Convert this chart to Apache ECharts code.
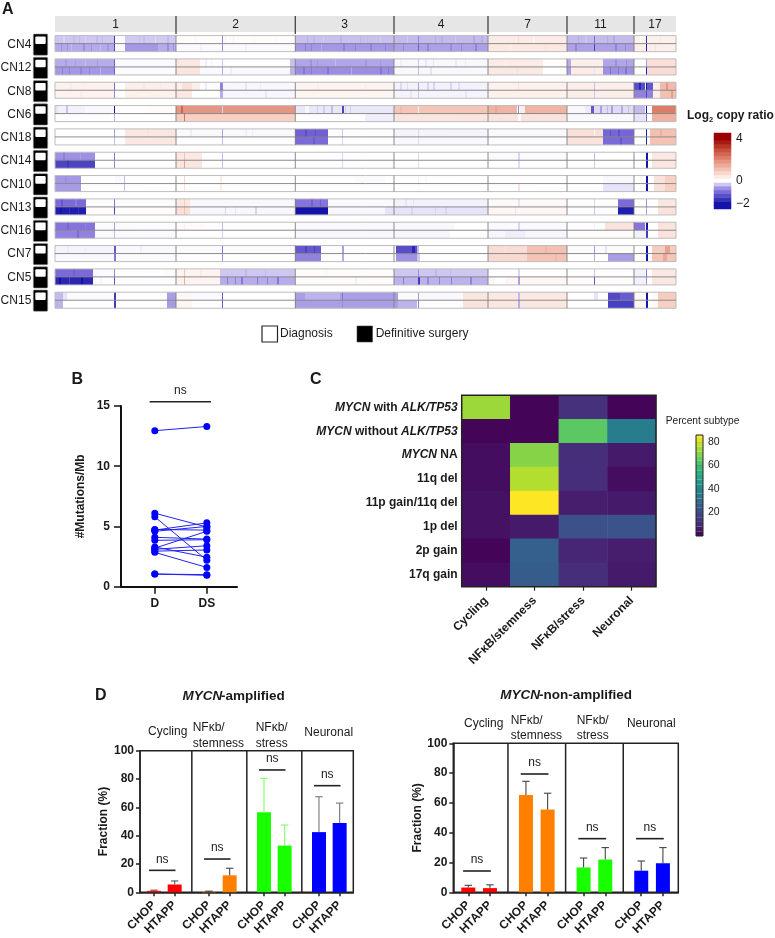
<!DOCTYPE html>
<html><head><meta charset="utf-8">
<style>html,body{margin:0;padding:0;background:#fff}#c{width:775px;height:938px}</style>
<script src="https://cdn.jsdelivr.net/npm/echarts@6/dist/echarts.min.js"></script>
</head><body><div id="c"></div>
<script>
// ---------- Panel A data: [startBin, endBin, log2 ratio] per sample track ----------
const chromNames=['1','2','3','4','7','11','17'];
const chromEnds=[121,240.3,339,433,512,579,621];
const CN4_D=[[0,59,-.4],[8,10,-.3],[18,20,-.48],[24,25,-.5],[30,31,-.3],[41,43,-.5],[47,48,-.48],[59,60,-1.6],[60,70,-.03],[70,121,-.38],[84,85,-.48],[88,90,-.46],[100,101,-.28],[112,114,-.48],[121,240,.05],[140,141,-.08],[167,168,-.9],[170,171,-.1],[178,179,-.1],[198,200,.12],[220,221,-.06],[240,339,-.45],[252,253,-.56],[258,260,-.52],[268,269,-.36],[285,287,-.56],[305,306,-.55],[312,313,-.52],[325,326,-.35],[339,433,-.5],[352,353,-.38],[363,364,-.9],[380,381,-.6],[386,388,-.58],[400,401,-.4],[418,420,-.62],[426,428,-.6],[433,512,.35],[463,464,.6],[478,480,.2],[512,579,-.5],[523,524,-.62],[530,532,-.42],[539,540,-1.1],[552,553,-.62],[558,560,-.62],[579,621,.25],[585,587,.05],[591,592,-1.7],[605,606,.45]];
const CN4_DS=[[0,59,-.62],[6,7,-.78],[12,13,-.78],[16,17,-.5],[28,30,-.8],[36,37,-.78],[45,46,-.5],[52,54,-.75],[59,60,-1.5],[60,70,-.05],[70,103,-.75],[103,121,-.6],[112,114,-.82],[118,119,-.8],[121,240,-.04],[145,147,-.1],[167,168,-.8],[190,192,-.1],[240,339,-.75],[250,251,-.95],[256,257,-.9],[266,267,-.6],[288,290,-.92],[300,301,-.9],[315,317,-.9],[330,331,-.9],[339,433,-.68],[348,349,-.85],[363,364,-1.2],[372,374,-.88],[395,397,-.85],[406,407,-.85],[420,422,-.9],[433,512,.4],[455,456,.2],[490,491,.55],[512,579,-.68],[520,522,-.88],[539,540,-1.5],[560,562,-.9],[570,571,-.85],[579,621,.3],[591,592,-1.9],[600,601,.5]];
const CN12_D=[[0,59,-.6],[10,12,-.72],[20,21,-.7],[30,31,-.5],[42,43,-.72],[59,60,-1.2],[60,121,-.04],[121,145,.4],[145,235,-.02],[150,152,-.12],[156,157,-.1],[167,168,-.4],[235,240,-.45],[240,339,-.65],[255,257,-.78],[262,263,-.75],[280,281,-.5],[310,312,-.76],[325,326,-.74],[339,433,-.06],[345,347,-.12],[363,364,-.4],[370,372,-.18],[378,379,-.18],[400,402,-.15],[410,411,-.14],[433,488,.35],[450,451,.2],[488,512,.04],[512,516,-.6],[516,548,.3],[539,540,-.1],[548,579,-.65],[560,562,-.82],[571,572,-.82],[579,591,.02],[591,592,-.7],[592,621,.55]];
const CN12_DS=[[0,59,-.75],[7,8,-.92],[14,15,-.9],[25,27,-.88],[34,35,-.9],[45,46,-.55],[59,60,-1.2],[60,121,-.03],[121,145,.45],[145,235,-.04],[167,168,-.6],[175,177,-.12],[235,240,-.55],[240,339,-.82],[248,250,-1],[256,257,-.98],[272,274,-1],[296,297,-.6],[325,327,-1],[333,334,-.98],[339,433,-.05],[363,364,-.5],[375,377,-.2],[433,488,.38],[462,463,.55],[488,512,.03],[512,516,-.7],[516,548,.35],[539,540,-.2],[548,579,-.8],[555,556,-1.05],[563,564,-1],[570,572,-1],[579,591,0],[591,592,-1.9],[592,621,.6]];
const CN8_D=[[0,59,.25],[15,17,.33],[28,29,.32],[38,39,.18],[59,60,-1.1],[60,70,.01],[70,121,.3],[88,90,.4],[105,106,.38],[121,127,.3],[127,137,.55],[137,145,.3],[145,165,-.02],[150,152,-.15],[165,168,-.9],[168,240,-.06],[190,192,-.2],[205,206,-.14],[240,339,.2],[262,264,.3],[310,312,.3],[339,433,-.1],[345,347,-.28],[352,353,-.25],[363,364,-.7],[372,374,-.3],[378,380,-.3],[395,397,-.3],[403,405,-.25],[433,512,.25],[463,464,.5],[512,579,.3],[539,540,-.5],[579,590,-1.4],[584,586,-1.8],[591,592,-2],[592,598,-1.3],[598,605,.3],[605,621,1.2],[611,613,1.8]];
const CN8_DS=[[0,59,.22],[25,27,.32],[59,60,-.9],[60,70,.01],[70,121,.25],[121,137,.4],[137,165,.01],[165,168,-.6],[168,240,-.07],[210,212,-.18],[240,339,.18],[339,433,-.08],[355,357,-.18],[363,364,-.4],[410,412,-.2],[433,512,.25],[512,579,.28],[539,540,-.4],[579,598,-.9],[591,592,-1.5],[598,605,.3],[605,621,1.1],[616,618,1.7]];
const CN6_D=[[0,30,-.1],[0,3,-.2],[11,13,-.45],[30,59,-.05],[59,61,-2],[60,70,.02],[70,90,.01],[90,121,.06],[121,126,1.8],[126,128,2.6],[128,240,1.8],[167,168,-.3],[240,339,-.17],[250,254,-.05],[262,263,-.35],[268,270,-.35],[276,278,-.5],[287,289,-1.5],[290,291,-.35],[295,296,-.35],[339,433,1],[345,347,1.2],[363,364,-.1],[433,462,1.3],[440,442,1.5],[463,464,-.9],[465,470,.3],[470,512,1.3],[512,530,-.05],[530,536,-.15],[536,539,-1.3],[539,579,-.25],[545,547,-.7],[552,553,-.5],[556,558,-.7],[566,568,-.6],[573,574,-.5],[579,590,-.5],[591,592,-2],[597,621,2.2]];
const CN6_DS=[[0,55,-.02],[60,70,.01],[59,60,-.6],[70,121,.01],[121,240,.85],[129,130,2.4],[240,310,-.02],[310,339,-.12],[339,433,.45],[433,512,.5],[463,466,.02],[512,579,-.05],[579,591,-.2],[591,592,-1.1],[597,621,1.35]];
const CN18_D=[[0,59,0],[59,60,-.7],[60,70,-.02],[70,121,.42],[92,94,.5],[121,240,-.05],[135,137,-.14],[167,168,-.7],[190,192,-.12],[197,198,-.12],[240,273,-1.2],[250,252,-1.4],[260,261,-1.35],[273,339,-.02],[287,288,-.4],[339,433,-.08],[363,364,-.3],[433,512,-.05],[512,548,.55],[539,540,.1],[548,579,-1.15],[555,556,-1.35],[563,565,-1.35],[579,591,0],[591,592,-1.9],[595,621,1.1],[605,607,1.35]];
const CN18_DS=[[0,59,0],[59,60,-.5],[60,70,-.02],[70,121,.4],[121,240,-.02],[167,168,-.5],[240,273,-1.1],[258,260,-1.25],[273,339,0],[287,288,-.3],[339,433,-.05],[363,364,-.25],[433,512,-.03],[512,548,.5],[548,579,-1.1],[565,567,-1.3],[579,591,0],[591,592,-1.9],[595,621,1.05]];
const CN14_D=[[0,40,-.8],[8,10,-.92],[25,26,-.7],[40,121,-.01],[59,60,-1],[121,147,.4],[129,130,1],[147,240,-.02],[167,168,-.5],[240,339,-.02],[287,288,-.3],[363,364,-.3],[433,512,-.03],[463,465,-.3],[512,579,0],[539,540,-.5],[591,593,-2],[597,621,.4]];
const CN14_DS=[[0,40,-1.5],[12,14,-1.62],[40,121,0],[59,60,-.9],[121,147,.45],[129,130,1.6],[167,168,-.45],[240,339,-.02],[287,288,-.3],[363,364,-.25],[463,465,-.25],[539,540,-.4],[591,593,-2],[597,621,.42]];
const CN10_D=[[0,26,-.75],[10,12,-.82],[60,69,-.04],[69,70,-.5],[129,130,.7],[165,167,.35],[300,330,-.03],[363,364,.3],[370,372,-.06],[512,548,0],[548,579,-.05],[591,593,-2],[599,610,.5],[610,621,.8]];
const CN10_DS=[[0,26,-.72],[69,70,-.5],[129,130,.5],[165,167,.3],[363,364,.1],[463,465,.5],[548,579,-.2],[591,593,-2],[599,610,.55],[610,621,.85]];
const CN13_D=[[0,31,-1.1],[6,8,-1.3],[20,22,-.95],[31,121,-.03],[59,60,-1],[121,135,.4],[129,130,.9],[135,240,-.05],[240,273,-1],[256,258,-1.2],[265,266,-1.2],[273,339,-.04],[339,433,-.1],[350,352,-.2],[358,359,-.2],[433,512,.1],[463,465,-.2],[512,563,.02],[539,540,-.3],[563,579,-1.1],[591,592,-.8],[603,621,.42]];
const CN13_DS=[[0,31,-1.9],[5,7,-2],[14,15,-1.7],[23,24,-1.7],[31,121,.05],[59,60,-1.5],[121,135,.55],[129,130,1.1],[135,240,-.06],[170,171,-.3],[180,181,-.2],[200,202,-.3],[240,273,-2],[273,339,-.06],[330,339,-.2],[339,433,-.2],[356,358,-.3],[380,381,-.28],[390,392,-.3],[433,512,.15],[460,461,-.2],[512,563,-.02],[539,540,-.4],[563,579,-1.9],[591,592,-.7],[603,621,.5]];
const CN16_D=[[0,40,-1],[12,14,-1.12],[30,31,-.9],[40,121,-.03],[59,60,-.7],[121,150,.08],[129,130,.3],[150,240,-.02],[167,168,-.5],[240,339,-.04],[339,400,-.05],[433,512,-.04],[463,465,-.3],[512,550,-.02],[539,540,-.1],[550,579,.5],[579,590,-1],[591,593,-2],[603,621,.5]];
const CN16_DS=[[0,40,-.9],[22,24,-1.08],[40,121,-.04],[59,60,-.5],[121,240,-.01],[167,168,-.3],[240,339,-.05],[339,395,-.07],[433,512,-.07],[450,470,-.12],[512,579,.05],[579,591,-.1],[591,593,-1.6],[603,621,.5]];
const CN7_D=[[0,59,-.08],[12,14,-.15],[30,31,-.14],[59,61,-1.3],[61,121,-.05],[85,87,-.12],[121,240,-.03],[167,168,-1],[240,266,-1.3],[250,252,-1.5],[259,260,-1.5],[266,339,-.02],[287,289,-.7],[341,362,-1.4],[357,360,-1.8],[362,364,-.5],[433,472,.6],[450,451,.45],[472,512,1.1],[490,492,1.25],[512,579,-.03],[539,540,-.7],[550,552,-.2],[591,593,-2],[597,621,.9],[610,615,1.6]];
const CN7_DS=[[0,59,-.05],[59,61,-1],[61,121,-.03],[121,240,-.01],[167,168,-.8],[240,266,-.9],[266,339,-.01],[287,289,-.6],[341,362,-.8],[362,365,-.4],[433,472,.65],[472,512,1.05],[500,502,1.22],[512,553,-.01],[539,540,-.6],[553,579,-.7],[591,593,-2],[597,621,1],[608,612,1.5]];
const CN5_D=[[0,38,-1.1],[18,20,-1.2],[38,60,-.04],[59,60,-.9],[60,110,-.01],[110,121,.06],[121,165,.2],[129,130,1],[145,147,.35],[165,240,-.4],[190,192,-.52],[210,211,-.5],[240,339,.06],[270,272,.14],[339,433,-.4],[363,364,-.8],[380,382,-.52],[395,396,-.5],[433,512,.03],[463,465,-.3],[512,579,.02],[539,540,-.4],[579,590,-.1],[591,592,-1],[597,621,.4]];
const CN5_DS=[[0,38,-1.8],[4,6,-2],[14,15,-1.5],[26,28,-2],[38,121,-.02],[45,47,.15],[59,60,-1.3],[121,165,.2],[129,130,1.4],[165,240,-.6],[172,173,-.95],[180,181,-.9],[186,188,-1],[202,203,-.95],[212,213,-.9],[222,224,-1],[240,339,.07],[300,302,-.12],[339,433,-.55],[348,349,-.95],[363,365,-1.6],[372,374,-.85],[384,385,-.9],[396,397,-.95],[415,417,-.9],[433,512,.15],[463,465,-.7],[440,450,0],[512,579,.05],[539,540,-1.3],[579,591,-.1],[591,592,-.8],[597,621,.42]];
const CN15_D=[[0,8,-.5],[8,12,-.2],[12,58,-.03],[59,61,-1.6],[61,112,-.01],[112,121,-.7],[121,137,.15],[137,166,-.04],[167,168,-1.3],[240,339,-.7],[250,285,-.55],[287,288,-1],[339,343,-.7],[343,363,-.03],[363,364,-.7],[364,408,-.05],[408,433,.45],[433,512,.4],[463,465,-.5],[512,539,0],[539,543,-.2],[553,579,-1.45],[565,579,-1.25],[579,591,.12],[591,593,-2],[597,603,.1],[603,621,.9]];
const CN15_DS=[[0,8,-.55],[8,58,0],[59,61,-1.6],[61,112,0],[112,121,-.72],[121,137,.18],[137,166,-.02],[167,168,-1.3],[240,339,-.7],[287,288,-.85],[339,343,-.7],[343,362,-.55],[363,364,-.9],[364,408,-.02],[408,433,.5],[433,512,.42],[463,465,-.6],[512,543,0],[553,579,-1.55],[579,591,.15],[591,593,-2],[597,603,.12],[603,621,.85]];
const rowNames=['CN4','CN12','CN8','CN6','CN18','CN14','CN10','CN13','CN16','CN7','CN5','CN15'];
const rowTracks=[[CN4_D,CN4_DS],[CN12_D,CN12_DS],[CN8_D,CN8_DS],[CN6_D,CN6_DS],[CN18_D,CN18_DS],[CN14_D,CN14_DS],[CN10_D,CN10_DS],[CN13_D,CN13_DS],[CN16_D,CN16_DS],[CN7_D,CN7_DS],[CN5_D,CN5_DS],[CN15_D,CN15_DS]];
const log2BarValues=[-2.2,-2,-1.7,-1.4,-1.1,-.8,-.4,0,.35,.7,1.1,1.45,1.8,2.2,2.55,2.9,3.3,3.65,4,4.4];
const log2BarLabels={'-2':'\u22122','0':'0','4':'4'};
// ---------- Panel B ----------
const mutD =[12.95,6.1,5.8,4.75,4.7,4.6,4.1,3.85,3.3,3.2,3.1,2.95,2.85,1.05,1.05];
const mutDS=[13.3,4.95,2.2,4.7,5.3,5.0,3.95,3.9,2.45,4.6,3.4,3.05,1.6,1.0,0.95];
const mutCats=['D','DS'];
// ---------- Panel C ----------
const subtypes=['Cycling','NF\u03BAB/stemness','NF\u03BAB/stress','Neuronal'];
const groups=['MYCN with ALK/TP53','MYCN without ALK/TP53','MYCN NA','11q del','11p gain/11q del','1p del','2p gain','17q gain'];
const subtypePct=[[73,1,12,1],[1,1,64,36],[3,70,11,6],[3,76,11,3],[4,86,7,6],[4,6,21,22],[1,26,9,7],[3,25,11,6]];
const pctBarEdges=[0,4,8,12,16,20,24,28,32,36,40,44,48,52,56,60,64,68,72,76,80,84,86];
const pctTicks=[20,40,60,80];
// ---------- Panel D: [mean, upper error] per CHOP/HTAPP ----------
const panelNames=['Cycling','NF\u03BAb/\nstemness','NF\u03BAb/\nstress','Neuronal'];
const sources=['CHOP','HTAPP'];
const ampMean =[[1,5.5],[.3,12],[56.5,33],[42.5,49]];
const ampUpper=[[1.5,8],[.8,17],[80.5,47.5],[67.5,63]];
const ampNs=[15.5,23.5,86.4,75.3];
const nonMean =[[3.2,2.8],[65.3,55.5],[16.7,22],[14.5,19.5]];
const nonUpper=[[4.7,5],[74.5,66.5],[23,30],[21,30]];
const nonNs=[14.3,79.4,36,36];

// ---------- styles ----------
const FF='"Liberation Sans",Arial,sans-serif', INK='#1a1a1a';
const DIVERGE=['#1414aa','#8674dc','#ffffff','#f5c6b8','#e08a74','#c84a38','#9a0000'];
const VIRIDIS=['#440154','#472d7b','#3b528b','#2c728e','#21918c','#28ae80','#5ec962','#addc30','#fde725'];
const barCols=['#ff0000','#ff8000','#1aff00','#0000ff'];
const errAmp=['#555555','#444444','#7dff66','#777777'];
const errNon=['#444444','#444444','#444444','#444444'];
const STEP=2.66;
const txt=(text,x,y,font,o={})=>({type:'text',silent:true,z:50,style:Object.assign({text,x,y,font:font+' '+FF,fill:INK,align:o.a||'left',textAlign:o.a||'left',verticalAlign:'middle',textVerticalAlign:'middle',lineHeight:o.lh},o.s||{})});
const rectG=(x,y,w,h,fill,stroke,lw)=>({type:'rect',z:40,silent:true,shape:{x,y,width:w,height:h},style:{fill:fill||'transparent',stroke:stroke||null,lineWidth:lw||0}});

// ---------- grids ----------
const grids=[
 {left:55,top:16,width:621,height:295.9},
 {left:33.3,top:33,width:14.4,height:279.3},
 {left:714,top:133,width:17,height:76},
 {left:121,top:406,width:116,height:180.7},
 {left:461.7,top:395.3,width:194.3,height:191.4},
 {left:696,top:435,width:7,height:101},
 {left:140,top:750.7,width:213.3,height:141.6,show:true,borderColor:'#222',borderWidth:1.5},
 {left:453.3,top:743.3,width:225,height:149,show:true,borderColor:'#222',borderWidth:1.5}
].map(g=>Object.assign(g,{outerBoundsMode:'none',containLabel:false}));
const hidden=(o)=>Object.assign({show:false},o);
const Y_ROW_MIN=-0.683;
const xAxes=[
 hidden({type:'value',gridIndex:0,min:0,max:621}),
 hidden({type:'value',gridIndex:1,min:0,max:1}),
 hidden({type:'category',gridIndex:2,data:['']}),
 {type:'value',gridIndex:3,min:-.65,max:1.58,splitLine:{show:false},
  axisLine:{show:true,onZero:false,lineStyle:{color:'#111',width:2}},
  axisTick:{show:true,length:7,customValues:[0,1],lineStyle:{color:'#111',width:1.5}},
  axisLabel:{customValues:[0,1],formatter:v=>mutCats[v],fontFamily:FF,fontWeight:'bold',fontSize:12,color:INK,margin:11}},
 {type:'category',gridIndex:4,data:subtypes,axisLine:{show:false},
  axisTick:{show:true,alignWithLabel:true,length:4,lineStyle:{color:'#222',width:1.2}},
  axisLabel:{rotate:45,interval:0,fontFamily:FF,fontWeight:'bold',fontSize:12,color:INK,margin:12}},
 hidden({type:'value',gridIndex:5,min:0,max:1})
];
const dTicks=[];[0,1,2,3].forEach(p=>[0,1].forEach(s=>dTicks.push(p*STEP+s)));
const dLabel=v=>{const r=v-Math.floor(v/STEP+1e-6)*STEP;return sources[r>.5?1:0];};
[[6,-.677,9.64],[7,-.692,9.69]].forEach(([g,min,max])=>xAxes.push({type:'value',gridIndex:g,min,max,splitLine:{show:false},
  axisLine:{show:true,onZero:false,lineStyle:{color:'#222',width:1.5}},
  axisTick:{show:true,length:4,customValues:dTicks,lineStyle:{color:'#222',width:1.5}},
  axisLabel:{customValues:dTicks,formatter:dLabel,rotate:45,fontFamily:FF,fontWeight:'bold',fontSize:12,color:INK,margin:11,hideOverlap:false}}));
const yAxes=[
 hidden({type:'value',gridIndex:0,min:Y_ROW_MIN,max:12,inverse:true}),
 {type:'category',gridIndex:1,data:rowNames,inverse:true,axisLine:{show:false},axisTick:{show:false},axisLabel:{interval:0,fontFamily:FF,fontSize:12,color:INK,margin:2}},
 {type:'category',gridIndex:2,position:'right',data:log2BarValues.map(String),axisLine:{show:false,onZero:false},axisTick:{show:false},
  axisLabel:{interval:0,fontFamily:FF,fontSize:12,color:INK,margin:5,formatter:v=>log2BarLabels[v]||''}},
 {type:'value',gridIndex:3,min:0,max:15,interval:5,splitLine:{show:false},
  name:'#Mutations/Mb',nameLocation:'middle',nameGap:34,nameRotate:90,nameTextStyle:{fontFamily:FF,fontWeight:'bold',fontSize:12,color:INK},
  axisLine:{show:true,onZero:false,lineStyle:{color:'#111',width:2}},axisTick:{show:true,length:7,lineStyle:{color:'#111',width:1.5}},
  axisLabel:{fontFamily:FF,fontWeight:'bold',fontSize:12,color:INK,margin:11}},
 {type:'category',gridIndex:4,data:groups,inverse:true,axisLine:{show:false},axisTick:{show:false},
  axisLabel:{interval:0,margin:4,fontFamily:FF,fontWeight:'bold',fontSize:12,color:INK,
   formatter:v=>v.split(/(MYCN|ALK\/TP53)/).filter(Boolean).map(p=>/MYCN|ALK/.test(p)?'{i|'+p+'}':'{b|'+p+'}').join(''),
   rich:{i:{fontFamily:FF,fontWeight:'bold',fontStyle:'italic',fontSize:12,color:INK},b:{fontFamily:FF,fontWeight:'bold',fontSize:12,color:INK}}}},
 {type:'value',gridIndex:5,position:'right',min:0,max:86,splitLine:{show:false},axisLine:{show:false,onZero:false},
  axisTick:{show:true,inside:true,length:7,customValues:pctTicks,lineStyle:{color:'#222',width:.8}},
  axisLabel:{customValues:pctTicks,fontFamily:FF,fontSize:10.5,color:INK,margin:5}}
];
[[6,28],[7,29]].forEach(([g,gap])=>yAxes.push({type:'value',gridIndex:g,min:0,max:100,interval:20,splitLine:{show:false},
  name:'Fraction (%)',nameLocation:'middle',nameGap:gap,nameRotate:90,nameTextStyle:{fontFamily:FF,fontWeight:'bold',fontSize:12,color:INK},
  axisLine:{show:true,onZero:false,lineStyle:{color:'#222',width:1.5}},axisTick:{show:true,length:4,lineStyle:{color:'#222',width:1.5}},
  axisLabel:{fontFamily:FF,fontWeight:'bold',fontSize:12,color:INK,margin:6}}));

// ---------- series ----------
const series=[];
const axisRef=g=>({xAxisIndex:g,yAxisIndex:g});
// A: segments, drawn through the genome axis
const segData=[];
rowTracks.forEach((tracks,r)=>tracks.forEach((segs,t)=>segs.forEach(s=>segData.push([s[0],s[1],r,t,s[2]]))));
const ROW_PAD=.156, MID=.5;
series.push(Object.assign({type:'custom',name:'Log2 copy ratio',data:segData,silent:true,dimensions:['s','e','row','track','v'],encode:{x:[0,1],y:2},z:2,
 renderItem:(p,api)=>{const r=api.value(2),t=api.value(3);
  const a=api.coord([api.value(0),r+(t?MID:ROW_PAD)]),b=api.coord([api.value(1),r+(t?1-ROW_PAD:MID)]);
  return {type:'rect',shape:{x:a[0],y:a[1],width:b[0]-a[0],height:b[1]-a[1]},style:{fill:api.visual('color')}};}},axisRef(0)));
// A: row frames
series.push(Object.assign({type:'custom',silent:true,data:rowNames.map((n,i)=>[i]),encode:{y:0},z:3,
 renderItem:(p,api)=>{const r=api.value(0),L=api.coord([0,r+ROW_PAD]),R=api.coord([621,r+1-ROW_PAD]),M=api.coord([0,r+MID]);
  const kids=[{type:'rect',shape:{x:L[0],y:L[1],width:R[0]-L[0],height:R[1]-L[1]},style:{fill:'none',stroke:'#bdbdbd',lineWidth:1}},
   {type:'line',shape:{x1:L[0],y1:M[1],x2:R[0],y2:M[1]},style:{stroke:'#808080',lineWidth:.9}}];
  chromEnds.slice(0,-1).forEach(e=>{const x=api.coord([e,0])[0];kids.push({type:'line',shape:{x1:x,y1:L[1],x2:x,y2:R[1]},style:{stroke:'#808080',lineWidth:.9}});});
  return {type:'group',children:kids};}},axisRef(0)));
// A: chromosome header
series.push(Object.assign({type:'custom',silent:true,data:chromNames.map((n,i)=>[i?chromEnds[i-1]:0,chromEnds[i],i]),encode:{x:[0,1]},z:3,
 renderItem:(p,api)=>{const a=api.coord([api.value(0),Y_ROW_MIN]),b=api.coord([api.value(1),0]),i=api.value(2);
  const kids=[{type:'rect',shape:{x:a[0],y:a[1],width:b[0]-a[0],height:b[1]-a[1]},style:{fill:'#e6e6e6'}},
   {type:'text',style:{text:chromNames[i],x:(a[0]+b[0])/2,y:(a[1]+b[1])/2+.5,align:'center',textAlign:'center',verticalAlign:'middle',textVerticalAlign:'middle',font:'12px '+FF,fill:INK}}];
  if(i<chromNames.length-1)kids.push({type:'line',z2:5,shape:{x1:b[0],y1:a[1],x2:b[0],y2:b[1]+2},style:{stroke:'#444',lineWidth:1.3}});
  return {type:'group',children:kids};}},axisRef(0)));
// A: sample icons
series.push(Object.assign({type:'custom',silent:true,data:rowNames.map((n,i)=>[0,i]),encode:{y:1},z:3,
 renderItem:(p,api)=>{const c=api.coord([0,api.value(1)]);const W=api.size([1,0])[0];const H=21.3;
  return {type:'group',children:[
   {type:'rect',shape:{x:c[0],y:c[1]-H/2,width:W,height:H,r:1},style:{fill:'#000',stroke:'#999',lineWidth:.6}},
   {type:'rect',shape:{x:c[0]+2,y:c[1]-H/2+2.4,width:W-4,height:7.6,r:1},style:{fill:'#fff'}}]};}},axisRef(1)));
// A: colour bar
series.push(Object.assign({type:'heatmap',silent:true,data:log2BarValues.map((v,i)=>[0,i,v])},axisRef(2)));
// B
mutD.forEach((d,i)=>series.push(Object.assign({type:'line',silent:true,data:[[0,d],[1,mutDS[i]]],symbol:'circle',symbolSize:7,lineStyle:{color:'#2222ee',width:1},itemStyle:{color:'#0000ff'},z:3},axisRef(3))));
// brackets
const bracket=(g,data,lift)=>Object.assign({type:'custom',silent:true,clip:false,data,encode:{x:[0,1],y:2},z:6,
 renderItem:(p,api)=>{const a=api.coord([api.value(0),api.value(2)]),b=api.coord([api.value(1),api.value(2)]);
  return {type:'group',children:[{type:'line',shape:{x1:a[0],y1:a[1],x2:b[0],y2:b[1]},style:{stroke:'#222',lineWidth:1.6}},
   {type:'text',style:{text:'ns',x:(a[0]+b[0])/2,y:a[1]-lift,align:'center',textAlign:'center',verticalAlign:'middle',textVerticalAlign:'middle',font:'12px '+FF,fill:INK}}]};}},axisRef(g));
series.push(bracket(3,[[-.1,1.08,15.35]],11));
// C
const cData=[];subtypePct.forEach((row,r)=>row.forEach((v,c)=>cData.push([c,r,v])));
series.push(Object.assign({type:'heatmap',silent:true,data:cData},axisRef(4)));
const barEdges=pctBarEdges.slice(0,-1).map((e,i)=>[e,pctBarEdges[i+1],(e+pctBarEdges[i+1])/2]);
series.push(Object.assign({type:'custom',silent:true,data:barEdges,dimensions:['lo','hi','v'],encode:{y:[0,1]},
 renderItem:(p,api)=>{const a=api.coord([0,api.value(1)]),b=api.coord([1,api.value(0)]);
  return {type:'rect',shape:{x:a[0],y:a[1],width:b[0]-a[0],height:b[1]-a[1]},style:{fill:api.visual('color')}};}},axisRef(5)));
// D
function panelD(g,mean,upper,ns,errCols){
 const bars=[],errs=[];
 mean.forEach((m,p)=>m.forEach((v,s)=>{
  bars.push({value:[p*STEP+s,v],itemStyle:{color:barCols[p]}});
  errs.push([p*STEP+s,v,upper[p][s],p]);
 }));
 series.push(Object.assign({type:'custom',silent:true,data:[1,2,3].map(i=>[i*STEP-.83]),encode:{x:0},z:1,
  renderItem:(pr,api)=>{const a=api.coord([api.value(0),0]),b=api.coord([api.value(0),100]);
   return {type:'line',shape:{x1:a[0],y1:a[1],x2:b[0],y2:b[1]},style:{stroke:'#222',lineWidth:1.5}};}},axisRef(g)));
 series.push(Object.assign({type:'bar',silent:true,barWidth:14,data:bars,z:2},axisRef(g)));
 series.push(Object.assign({type:'custom',silent:true,data:errs,encode:{x:0,y:2},z:3,
  renderItem:(pr,api)=>{const a=api.coord([api.value(0),api.value(1)]),b=api.coord([api.value(0),api.value(2)]);const col=errCols[api.value(3)];
   return {type:'group',children:[{type:'line',shape:{x1:a[0],y1:a[1],x2:b[0],y2:b[1]},style:{stroke:col,lineWidth:1.1}},
    {type:'line',shape:{x1:b[0]-3.7,y1:b[1],x2:b[0]+3.7,y2:b[1]},style:{stroke:col,lineWidth:1.1}}]};}},axisRef(g)));
 series.push(bracket(g,ns.map((y,p)=>[p*STEP-.24,p*STEP+1.04,y]),11));
}
panelD(6,ampMean,ampUpper,ampNs,errAmp);
panelD(7,nonMean,nonUpper,nonNs,errNon);

// visual maps bound to their series
const idx=fn=>series.map((s,i)=>fn(s,i)?i:-1).filter(i=>i>=0);
const segIdx=0, barAIdx=idx(s=>s.type==='heatmap'&&s.xAxisIndex===2)[0], cIdx=idx(s=>s.type==='heatmap'&&s.xAxisIndex===4)[0], cBarIdx=idx(s=>s.xAxisIndex===5)[0];
const visualMap=[
 {show:false,min:-2,max:4,dimension:4,seriesIndex:segIdx,inRange:{color:DIVERGE}},
 {show:false,min:-2,max:4,dimension:2,seriesIndex:barAIdx,inRange:{color:DIVERGE}},
 {show:false,min:0,max:86,dimension:2,seriesIndex:cIdx,inRange:{color:VIRIDIS}},
 {show:false,min:0,max:86,dimension:2,seriesIndex:cBarIdx,inRange:{color:VIRIDIS}}
];

// ---------- annotation text ----------
const elements=[
 txt('A',2,10,'bold 16px'),txt('B',71.5,380,'bold 16px'),txt('C',310,380,'bold 16px'),txt('D',95,696,'bold 16px'),
 {type:'text',silent:true,z:50,style:{x:687,y:116,text:'{a|Log}{s|2}{a| copy ratio}',verticalAlign:'middle',textVerticalAlign:'middle',
   rich:{a:{font:'bold 12px '+FF,fill:INK,color:INK,lineHeight:16,verticalAlign:'middle'},s:{font:'bold 7.5px '+FF,fill:INK,color:INK,lineHeight:16,verticalAlign:'bottom'}}}},
 rectG(262,326,15.5,16,'#fff','#222',1.2),txt('Diagnosis',280,334,'12px'),
 rectG(357,326,15.5,16,'#000','#444',.6),txt('Definitive surgery',375.7,334,'12px'),
 txt('Percent subtype',665.7,421,'10.2px'),
 rectG(461.7,395.3,194.3,191.4,null,'#222',1.5),rectG(696,435,7,101,null,'#222',1),
 txt('MYCN',235-52.5,696.7,'italic bold 13.5px'),txt('-amplified',235-52.5+38.6,696.7,'bold 13.5px'),
 txt('MYCN',568.3-68,695.7,'italic bold 13.5px'),txt('-non-amplified',568.3-68+38.6,695.7,'bold 13.5px'),
 txt(panelNames[0],167.7,731.7,'12px',{a:'center'}),txt(panelNames[1],192.7,735.5,'12px',{lh:15.5}),txt(panelNames[2],255.7,735.5,'12px',{lh:15.5}),txt(panelNames[3],328.7,733,'12px',{a:'center'}),
 txt(panelNames[0],483.7,723.7,'12px',{a:'center'}),txt(panelNames[1],510.7,728,'12px',{lh:15}),txt(panelNames[2],576.7,728,'12px',{lh:15}),txt(panelNames[3],651.3,724,'12px',{a:'center'})
];

const chart=echarts.init(document.getElementById('c'),null,{renderer:'canvas'});
chart.setOption({animation:false,backgroundColor:'#fff',textStyle:{fontFamily:FF},grid:grids,xAxis:xAxes,yAxis:yAxes,visualMap,series,graphic:{elements}});
</script></body></html>
